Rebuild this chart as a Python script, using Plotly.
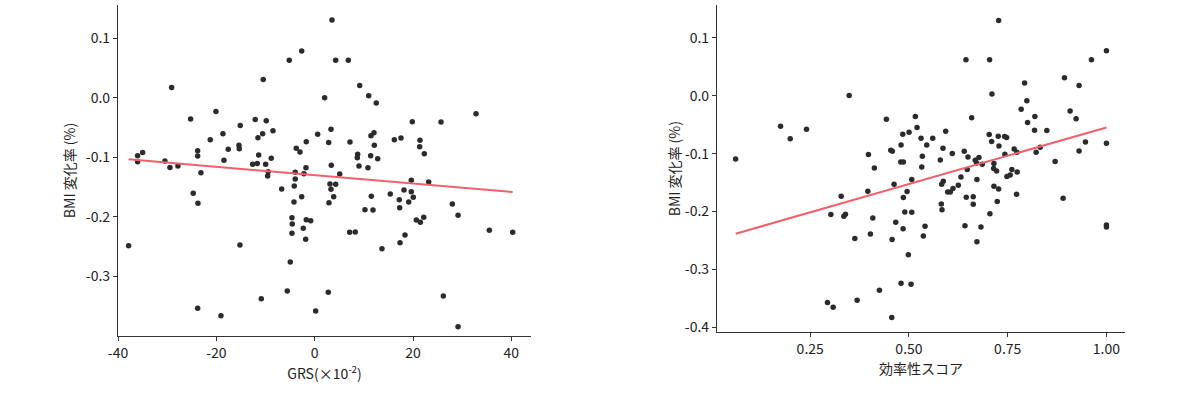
import plotly.graph_objects as go

# ---- Left panel: GRS vs BMI change ----
grs_x = [-36.01, -36.01, -34.99, -30.46, -29.44, -27.81, -29.09, -25.23, -23.80, -23.80,
         -23.13, -21.24, -20.08, -18.66, -18.45, -17.58, -15.40, -15.34, -15.14, -12.09,
         -11.54, -11.39, -12.61, -11.68, -10.58, -10.46, -9.85, -8.48, -9.97, -9.44,
         -9.56, -8.83, -5.17, -2.64, -3.74, -2.99, -1.71, -3.95, -2.18, -1.77,
         0.61, -3.95, 9.16, 10.99, 12.53, 2.03, -6.71, -4.15, -2.64, -4.21,
         -4.62, -4.56, -1.71, -0.81, -2.32, -4.62, -1.83, 3.32, 2.85, 3.38,
         5.09, 3.11, 4.27, 3.32, 3.87, 2.91, 7.18, 8.75, 8.67, 9.01,
         10.84, 11.45, 12.07, 12.13, 11.39, 12.82, 11.52, 10.23, 11.86, 7.12,
         8.26, 16.20, 17.56, 19.86, 25.70, 21.42, 21.36, 22.30, 19.65, 23.19,
         15.38, 18.17, 19.65, 20.06, 17.21, 19.13, 17.29, 20.67, 22.18, 21.49,
         18.37, 28.00, 3.52, 4.27, 6.84, 32.82, -24.70, -23.74, -37.84, -15.20,
         -23.80, -19.06, -10.86, -4.96, -5.57, 0.20, 13.69, 17.36, 29.16, 35.52,
         40.28, 2.77, 26.17, 29.16]
grs_y = [-0.0975, -0.1076, -0.0918, -0.1064, -0.1170, -0.1148, 0.0175, -0.0358, -0.0891, -0.0980,
         -0.1261, -0.0706, -0.0229, -0.0605, -0.1052, -0.0867, -0.0800, -0.0857, -0.0464, -0.0363,
         -0.0672, -0.0963, -0.1119, -0.1103, -0.0605, 0.0309, -0.0387, -0.0555, -0.1119, -0.1244,
         -0.1316, -0.1018, 0.0629, 0.0785, -0.0850, -0.0913, -0.0739, -0.1254, -0.1277, -0.1176,
         -0.0615, -0.1366, 0.0208, 0.0034, -0.0089, 0.0000, -0.1534, -0.1484, -0.1664, -0.1753,
         -0.2017, -0.2123, -0.2050, -0.2067, -0.2195, -0.2279, -0.2380, -0.0531, -0.0750, -0.1136,
         -0.1282, -0.1450, -0.1455, -0.1539, -0.1664, -0.1765, -0.0745, -0.0951, -0.1008, -0.1148,
         -0.1176, -0.0639, -0.0588, -0.0800, -0.0975, -0.1025, -0.1657, -0.1882, -0.1887, -0.2262,
         -0.2257, -0.0706, -0.0677, -0.0403, -0.0408, -0.0716, -0.0824, -0.0941, -0.1388, -0.1417,
         -0.1618, -0.1551, -0.1580, -0.1674, -0.1714, -0.1753, -0.1849, -0.2055, -0.2010, -0.2094,
         -0.2308, -0.1787, 0.1306, 0.0629, 0.0629, -0.0269, -0.1607, -0.1775, -0.2487, -0.2476,
         -0.3539, -0.3664, -0.3378, -0.2761, -0.3249, -0.3585, -0.2538, -0.2437, -0.1976, -0.2229,
         -0.2262, -0.3271, -0.3333, -0.3849]
grs_fit_x = [-37.84, 40.28]
grs_fit_y = [-0.1035, -0.1585]

# ---- Right panel: efficiency score vs BMI change ----
eff_x = [0.0612, 0.1749, 0.1994, 0.2406, 0.3486, 0.3974, 0.4125, 0.3959, 0.3284, 0.4429,
         0.4540, 0.4580, 0.4623, 0.4800, 0.4793, 0.4858, 0.4843, 0.4858, 0.5003, 0.5071,
         0.4952, 0.5162, 0.5205, 0.7270, 0.6443, 0.7042, 0.7101, 0.6587, 0.7927, 0.7985,
         0.7841, 0.8003, 0.8188, 0.8180, 0.8491, 0.8938, 0.9307, 0.9621, 1.0000, 0.9080,
         0.9232, 0.9469, 1.0000, 0.9307, 0.8701, 0.8220, 0.8322, 0.5306, 0.5450, 0.5602,
         0.5930, 0.5862, 0.5339, 0.5324, 0.6097, 0.5794, 0.6400, 0.6494, 0.6678, 0.6772,
         0.6714, 0.6855, 0.7032, 0.7093, 0.7260, 0.7278, 0.7422, 0.7472, 0.7664, 0.7429,
         0.7733, 0.7151, 0.7144, 0.7219, 0.7606, 0.7740, 0.7480, 0.7563, 0.6476, 0.6721,
         0.6317, 0.6249, 0.5870, 0.5829, 0.6115, 0.5981, 0.6047, 0.7151, 0.7270, 0.7725,
         0.6451, 0.6628, 0.8903, 1.0000, 1.0000, 0.7235, 0.7050, 0.6628, 0.6418, 0.6823,
         0.6721, 0.5819, 0.5837, 0.4894, 0.5071, 0.4851, 0.5407, 0.5364, 0.4985, 0.3023,
         0.3352, 0.3392, 0.4085, 0.4666, 0.4024, 0.3630, 0.4573, 0.4800, 0.5053, 0.4252,
         0.2937, 0.3081, 0.3688, 0.4565]
eff_y = [-0.1092, -0.0525, -0.0745, -0.0577, 0.0007, -0.1016, -0.1248, -0.1652, -0.1738, -0.0404,
         -0.0941, -0.0958, -0.1530, -0.0849, -0.1144, -0.1144, -0.0664, -0.1761, -0.0629, -0.1449,
         -0.1657, -0.0357, -0.0548, 0.1300, 0.0624, 0.0624, 0.0029, -0.0381, 0.0220, -0.0087,
         -0.0231, -0.0461, -0.0357, -0.0594, -0.0600, 0.0312, 0.0180, 0.0624, 0.0780, -0.0265,
         -0.0399, -0.0797, -0.0820, -0.0953, -0.1137, -0.0976, -0.0889, -0.0733, -0.0849, -0.0733,
         -0.0612, -0.0906, -0.1045, -0.1231, -0.0998, -0.1109, -0.0958, -0.1057, -0.1114, -0.1068,
         -0.1161, -0.1184, -0.0669, -0.0790, -0.0698, -0.0867, -0.0704, -0.0721, -0.0919, -0.1010,
         -0.0976, -0.1172, -0.1258, -0.1300, -0.1276, -0.1317, -0.1397, -0.1369, -0.1276, -0.1449,
         -0.1404, -0.1548, -0.1478, -0.1530, -0.1605, -0.1664, -0.1664, -0.1565, -0.1612, -0.1704,
         -0.1756, -0.1744, -0.1773, -0.2236, -0.2270, -0.1830, -0.2038, -0.1877, -0.2246, -0.2270,
         -0.2523, -0.1872, -0.1969, -0.2010, -0.2016, -0.2298, -0.2258, -0.2426, -0.2749, -0.2055,
         -0.2085, -0.2050, -0.2114, -0.2189, -0.2392, -0.2466, -0.2484, -0.3241, -0.3258, -0.3362,
         -0.3575, -0.3657, -0.3536, -0.3835]
eff_fit_x = [0.0612, 1.0]
eff_fit_y = [-0.2385, -0.0548]

left_xticks = [-40, -20, 0, 20, 40]
left_xticklabels = ["-40", "-20", "0", "20", "40"]
left_yticks = [-0.3, -0.2, -0.1, 0.0, 0.1]
left_yticklabels = ["-0.3", "-0.2", "-0.1", "0.0", "0.1"]
right_xticks = [0.25, 0.50, 0.75, 1.00]
right_xticklabels = ["0.25", "0.50", "0.75", "1.00"]
right_yticks = [-0.4, -0.3, -0.2, -0.1, 0.0, 0.1]
right_yticklabels = ["-0.4", "-0.3", "-0.2", "-0.1", "0.0", "0.1"]

FONT = "Noto Sans CJK JP"
POINT = "#2b2b2b"
LINE = "#F0606C"
AXIS = "#333333"
TEXT = "#222222"

fig = go.Figure()
fig.add_trace(go.Scatter(x=grs_x, y=grs_y, mode="markers",
                         marker=dict(color=POINT, size=5.5), xaxis="x", yaxis="y",
                         showlegend=False, hoverinfo="skip"))
fig.add_trace(go.Scatter(x=grs_fit_x, y=grs_fit_y, mode="lines",
                         line=dict(color=LINE, width=2), xaxis="x", yaxis="y",
                         showlegend=False, hoverinfo="skip"))
fig.add_trace(go.Scatter(x=eff_x, y=eff_y, mode="markers",
                         marker=dict(color=POINT, size=5.5), xaxis="x2", yaxis="y2",
                         showlegend=False, hoverinfo="skip"))
fig.add_trace(go.Scatter(x=eff_fit_x, y=eff_fit_y, mode="lines",
                         line=dict(color=LINE, width=2), xaxis="x2", yaxis="y2",
                         showlegend=False, hoverinfo="skip"))

axis_common = dict(showgrid=False, zeroline=False, showline=True, linecolor=AXIS,
                   linewidth=1.2, ticks="outside", ticklen=4, tickcolor=AXIS, tickwidth=1,
                   automargin=False,
                   tickfont=dict(family=FONT, size=14, color=TEXT))

fig.update_layout(
    width=1201, height=394,
    margin=dict(l=0, r=0, t=0, b=0, autoexpand=False),
    paper_bgcolor="white", plot_bgcolor="white",
    font=dict(family=FONT, size=14, color=TEXT),
    xaxis=dict(domain=[118/1201, 531/1201], range=[-40, 44.0],
               tickvals=left_xticks, ticktext=left_xticklabels, anchor="y",
               title=dict(text="GRS(×10<sup>-2</sup>)", standoff=4,
                          font=dict(family=FONT, size=14, color=TEXT)),
               **axis_common),
    yaxis=dict(domain=[(394-336)/394, (394-5)/394], range=[-0.4005, 0.156],
               tickvals=left_yticks, ticktext=left_yticklabels, anchor="x",
               title=dict(text="BMI 変化率 (%)", standoff=6,
                          font=dict(family=FONT, size=14, color=TEXT)),
               **axis_common),
    xaxis2=dict(domain=[717/1201, 1125/1201], range=[0.014, 1.047],
                tickvals=right_xticks, ticktext=right_xticklabels, anchor="y2",
                title=dict(text="効率性スコア", standoff=3,
                           font=dict(family=FONT, size=14, color=TEXT)),
                **axis_common),
    yaxis2=dict(domain=[(394-332.3)/394, (394-5)/394], range=[-0.409, 0.157],
                tickvals=right_yticks, ticktext=right_yticklabels, anchor="x2",
                title=dict(text="BMI 変化率 (%)", standoff=0,
                           font=dict(family=FONT, size=14, color=TEXT)),
                **axis_common),
)

fig.write_html("out.html", config={"displayModeBar": False},
               post_script="document.body.style.margin='0';document.body.style.overflow='hidden';")
